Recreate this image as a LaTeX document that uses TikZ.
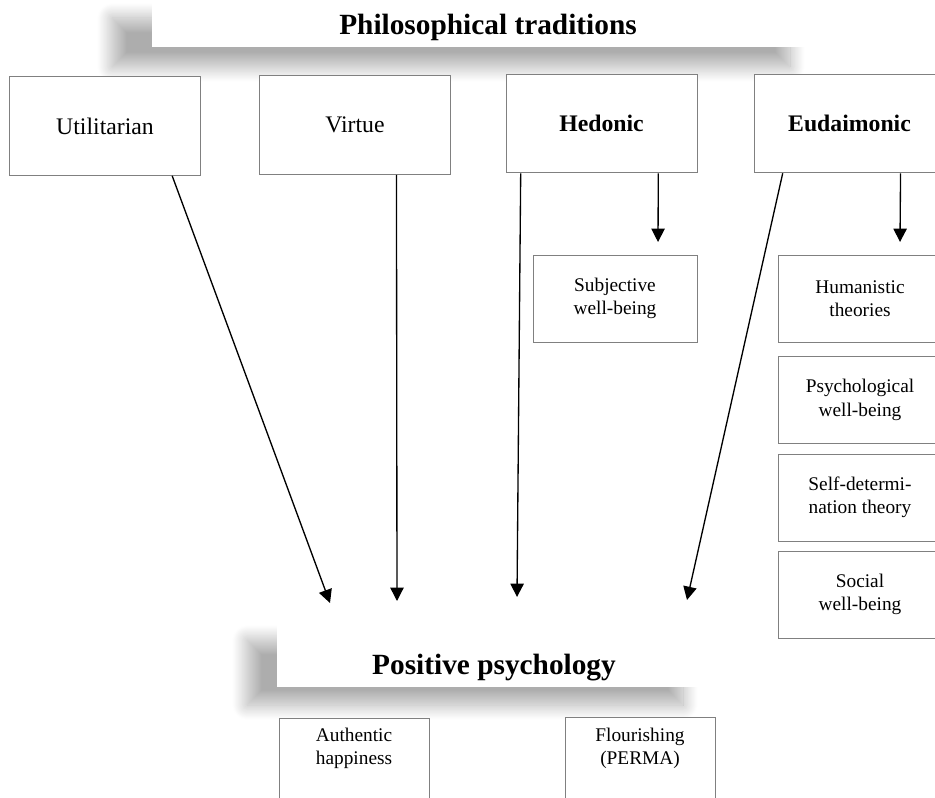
\documentclass[tikz,border=0pt]{standalone}
\usepackage{fontspec}
\setmainfont{Liberation Serif}
\usetikzlibrary{arrows.meta,shadows.blur,calc}

\begin{document}
\begin{tikzpicture}[x=0.75pt,y=-0.75pt,
  box/.style={draw=black!50, line width=0.7pt, fill=white, inner sep=0pt, align=center},
  mainbox/.style={box, minimum width=143.25pt, minimum height=74pt,
    font=\fontsize{17.8}{21}\selectfont},
  subbox/.style={box, minimum width=123pt, minimum height=65.25pt,
    font=\fontsize{14.5}{17.6}\selectfont},
  subtext/.style={inner sep=0pt, align=center, font=\fontsize{14.5}{17.6}\selectfont},
  banner/.style={fill=white, inner sep=0pt},
  softshadow/.style 2 args={blur shadow={shadow xshift=#1, shadow yshift=#2,
      shadow blur radius=11pt, shadow blur steps=20, shadow opacity=32}},
  bannertitle/.style={inner sep=0pt, anchor=base,
    font=\bfseries\fontsize{22}{26}\selectfont},
  link/.style={line width=1pt, -{Triangle[length=10pt,width=10pt]}}
]
\useasboundingbox (0,0) rectangle (935,798);
\clip (0,0) rectangle (935,798);

% banners with soft drop shadows
\node[banner, softshadow={-30pt}{-15pt}, minimum width=508.5pt, minimum height=36.75pt]
  (topbanner) at (491,22.5) {};
\node[bannertitle] (toptitle) at (488,35) {Philosophical traditions};

\node[banner, softshadow={-22.5pt}{-13.5pt}, minimum width=327pt, minimum height=48.75pt]
  (botbanner) at (495,654.5) {};
\node[bannertitle] (bottitle) at (494,674) {Positive psychology};

% philosophical traditions
\node[mainbox] (util)   at (105,126)   {Utilitarian};
\node[mainbox] (virtue) at (355,125)   {Virtue};
\node[mainbox] (hed)    at (601.5,123.5) {\textbf{Hedonic}};
\node[mainbox] (eud)    at (849.5,123.5) {\textbf{Eudaimonic}};

% psychological approaches
\node[subbox] (swb) at (615,298.5) {Subjective\\well-being};
\node[subbox] (hum) at (860,298.5) {Humanistic\\theories};
\node[subbox] (pwb) at (860,400)   {Psychological\\well-being};
\node[subbox] (sdt) at (860,497.5) {Self-determi-\\nation theory};
\node[subbox] (soc) at (860,594.5) {Social\\well-being};

% positive psychology models
\node[box, minimum width=112.5pt, minimum height=84pt] (auth)  at (354,774) {};
\node[subtext] (authtext) at (354,748.5) {Authentic\\happiness};
\node[box, minimum width=112.5pt, minimum height=84pt] (flour) at (640,773) {};
\node[subtext] (flourtext) at (640,748.5) {Flourishing\\(PERMA)};

% arrow ends
\coordinate (utilend) at (330,603);
\coordinate (virtend) at (397,601);
\coordinate (hedend)  at (517,597);
\coordinate (eudend)  at (687,600);
\coordinate (swbend)  at (658,242);
\coordinate (humend)  at (900,242);

\draw[link] ($(util.south west)!0.85!(util.south east)$) -- (utilend);
\draw[link] ($(virtue.south west)!0.716!(virtue.south east)$) -- (virtend);
\draw[link] ($(hed.south west)!0.079!(hed.south east)$) -- (hedend);
\draw[link] ($(eud.south west)!0.152!(eud.south east)$) -- (eudend);
\draw[link] ($(hed.south west)!0.796!(hed.south east)$) -- (swbend);
\draw[link] ($(eud.south west)!0.766!(eud.south east)$) -- (humend);
\end{tikzpicture}
\end{document}
